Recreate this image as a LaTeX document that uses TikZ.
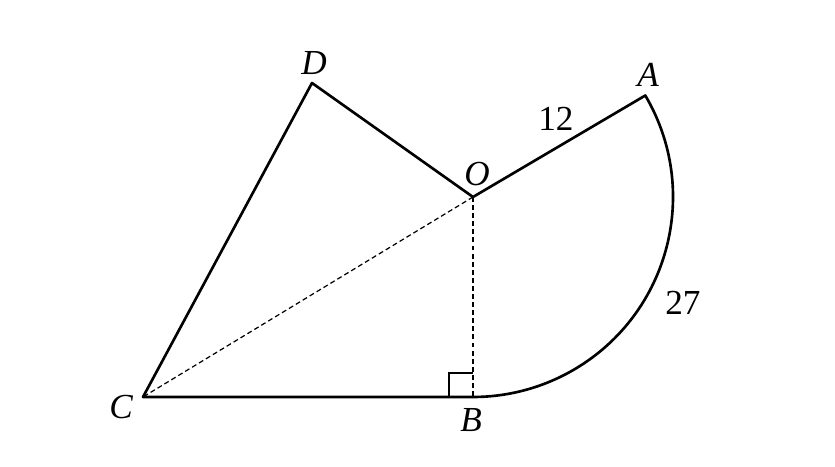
\documentclass[tikz,border=0pt]{standalone}
\usepackage{fontspec}
\setmainfont{Liberation Serif}
\usetikzlibrary{calc}
\begin{document}
\begin{tikzpicture}[x=0.01cm,y=0.01cm,
  solidline/.style={line width=0.75pt,line join=round},
  dashline/.style={line width=0.35pt,dash pattern=on 1.4pt off 0.9pt},
  lbl/.style={font=\fontsize{10}{12}\selectfont\itshape,inner sep=0pt},
  num/.style={font=\fontsize{10}{12}\selectfont,inner sep=0pt}]
\useasboundingbox (0,0) rectangle (835,467);
\coordinate (O) at (473,270);
\coordinate (A) at ($(O)+(30.5:200)$);
\coordinate (B) at (473,70);
\coordinate (C) at (143,70);
\coordinate (D) at (312,384);
\draw[solidline] (B) -- (C) -- (D) -- (O) -- (A) arc[start angle=30.5,end angle=-90,radius=200];
\draw[dashline] (O) -- (C);
\draw[dashline] (O) -- (B);
\draw[line width=0.4pt] ($(B)+(-24,0)$) -- ++(0,24) -- ++(24,0);
\node[lbl] (lD) at (314,404) {D};
\node[lbl] (lA) at (648,392) {A};
\node[lbl] (lO) at (477,293) {O};
\node[lbl] (lC) at (121,60) {C};
\node[lbl] (lB) at (471,47) {B};
\node[num] (n12) at (556,348) {12};
\node[num] (n27) at (683,164) {27};
\end{tikzpicture}
\end{document}
